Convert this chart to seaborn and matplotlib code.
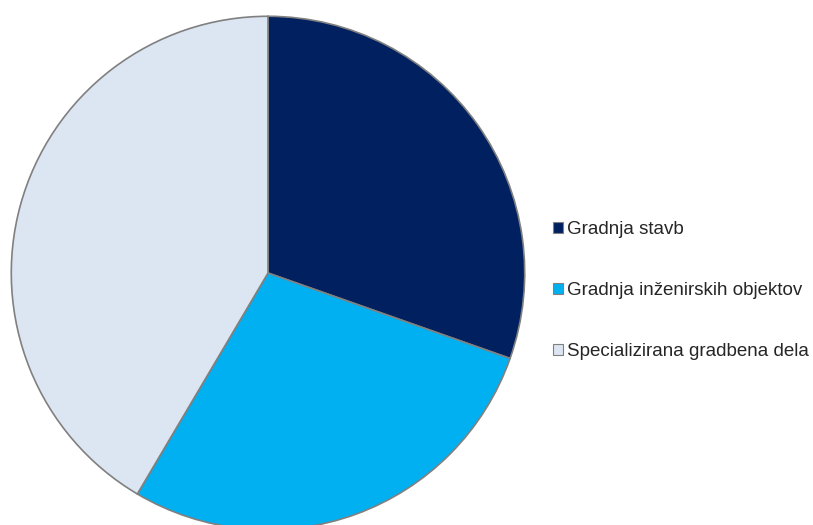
import matplotlib
matplotlib.use("Agg")
import matplotlib.pyplot as plt
import matplotlib.patches as mpatches
import seaborn as sns

# Shares of construction output by type
CATEGORIES = [
    "Gradnja stavb",
    "Gradnja inženirskih objektov",
    "Specializirana gradbena dela",
]
SHARES = [30.4, 28.1, 41.5]
COLORS = ["#002060", "#00B0F0", "#DCE6F2"]


def main():
    sns.set_theme(style="white")
    plt.rcParams["font.family"] = ["Liberation Sans", "DejaVu Sans"]

    fig = plt.figure(figsize=(8.13, 5.25), dpi=100)
    ax = fig.add_axes([10 / 813, -6 / 525, 516 / 813, 516 / 525])

    ax.pie(
        SHARES,
        colors=COLORS,
        startangle=90,
        counterclock=False,
        radius=1,
        wedgeprops={"edgecolor": "#808080", "linewidth": 1.2},
    )
    ax.set_xlim(-1.005, 1.005)
    ax.set_ylim(-1.005, 1.005)
    ax.set_aspect("equal")
    ax.axis("off")

    handles = [
        mpatches.Patch(facecolor=c, edgecolor="#808080", linewidth=0.8, label=lab)
        for c, lab in zip(COLORS, CATEGORIES)
    ]
    fig.legend(
        handles=handles,
        loc="center left",
        bbox_to_anchor=(553 / 813, 234.5 / 525),
        frameon=False,
        fontsize=13.5,
        handlelength=0.55,
        handleheight=0.55,
        handletextpad=0.18,
        labelspacing=2.35,
        borderpad=0,
        borderaxespad=0,
    )

    fig.savefig("out.png", dpi=100)
    plt.close(fig)


if __name__ == "__main__":
    main()
